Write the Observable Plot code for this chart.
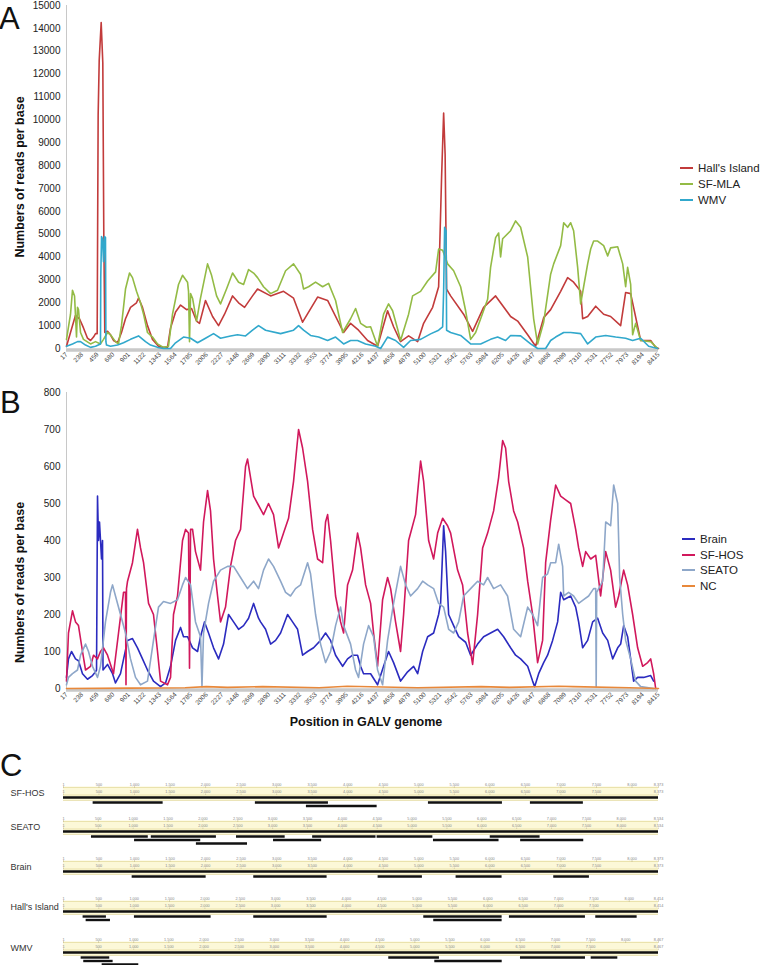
<!DOCTYPE html>
<html>
<head>
<meta charset="utf-8">
<script src="https://cdn.jsdelivr.net/npm/d3@7"></script>
<script src="https://cdn.jsdelivr.net/npm/@observablehq/plot@0.6"></script>
<style>
  html, body { margin: 0; padding: 0; background: #fff; }
  #root { position: relative; width: 760px; height: 965px; overflow: hidden; font-family: "Liberation Sans", Arial, sans-serif; color: #222; }
  .abs { position: absolute; white-space: nowrap; }
  .letter { font-size: 31px; line-height: 1; color: #111; }
  .leg { font-size: 11.5px; line-height: 14px; color: #222; }
  .leg span { display: inline-block; width: 13px; height: 2px; vertical-align: middle; margin-right: 5px; position: relative; top: -1px; }
</style>
</head>
<body>
<div id="root"></div>
<script>
// ---------------- DATA ----------------
// Panel A: reads per base, [genome position, reads]
const hallsIsland = [[17,100],[74,700],[145,1450],[201,1300],[258,900],[315,450],[358,350],[400,500],[429,650],[452,650],[466,10200],[481,12600],[509,14250],[532,12500],[546,5000],[560,700],[599,750],[641,600],[684,350],[741,250],[797,700],[854,1300],[925,1800],[1010,2000],[1039,2200],[1095,1800],[1166,1000],[1237,400],[1322,100],[1393,50],[1450,50],[1493,900],[1564,1600],[1635,1900],[1720,1700],[1791,1750],[1862,1200],[1904,1100],[1989,2100],[2089,1400],[2174,1000],[2259,1500],[2373,2300],[2458,2000],[2543,1800],[2656,2300],[2727,2600],[2912,2300],[3096,2500],[3238,2200],[3366,1150],[3579,2250],[3721,2100],[3948,700],[4047,1100],[4160,800],[4288,350],[4430,100],[4572,1650],[4657,950],[4756,300],[4870,550],[4998,300],[5083,1100],[5211,1800],[5296,2700],[5338,7500],[5367,10300],[5388,8500],[5409,2600],[5466,2300],[5650,1500],[5778,750],[5934,1800],[6104,2300],[6317,1400],[6417,1200],[6559,600],[6672,100],[6786,1350],[6885,1700],[7027,2500],[7126,3100],[7211,2900],[7311,2500],[7339,1300],[7410,1400],[7524,1850],[7637,1500],[7736,1400],[7878,1000],[7949,2450],[8020,2400],[8162,350],[8304,350],[8375,50],[8415,0]];
const sfMla = [[17,400],[74,1500],[102,2550],[131,2300],[159,500],[173,1800],[187,1700],[216,700],[258,400],[358,200],[429,300],[499,200],[542,400],[599,700],[641,600],[712,300],[755,200],[797,1000],[854,2600],[911,3300],[953,3100],[1010,2500],[1067,2000],[1110,1500],[1166,700],[1237,500],[1308,200],[1393,50],[1464,100],[1521,1500],[1606,2800],[1663,3200],[1734,2900],[1748,2500],[1762,300],[1777,2400],[1805,2200],[1862,1200],[1918,2200],[2018,3700],[2075,3200],[2146,2300],[2202,1950],[2287,2600],[2373,3300],[2458,2900],[2529,2800],[2600,3450],[2671,3300],[2727,3100],[2812,2700],[2912,2400],[3011,2550],[3125,3400],[3238,3700],[3337,3250],[3380,2600],[3451,2700],[3550,2900],[3650,2700],[3735,2850],[3834,2100],[3934,700],[4047,1300],[4118,1750],[4189,1100],[4274,930],[4331,950],[4430,100],[4515,1500],[4586,1950],[4643,1650],[4714,850],[4756,350],[4870,1500],[4927,2300],[5040,2500],[5140,2950],[5253,3350],[5296,4350],[5353,4300],[5423,3700],[5509,3400],[5608,2700],[5679,1650],[5750,400],[5821,700],[5892,1300],[5991,2150],[6033,3550],[6104,4850],[6147,5050],[6175,4000],[6204,4800],[6317,5150],[6388,5580],[6459,5300],[6559,4000],[6644,1300],[6700,200],[6786,1150],[6885,3250],[6928,3700],[7027,4500],[7070,5500],[7126,5300],[7169,5500],[7211,5150],[7268,3550],[7311,1950],[7353,2700],[7410,3700],[7453,4350],[7495,4700],[7552,4700],[7637,4500],[7694,4050],[7736,4400],[7836,4450],[7907,3700],[7949,2700],[7977,3550],[8020,2800],[8048,600],[8091,1100],[8162,350],[8304,300],[8403,0]];
const wmv = [[17,100],[102,200],[173,300],[216,300],[287,150],[358,50],[429,100],[499,200],[503,3100],[514,4900],[528,4800],[542,3800],[556,4900],[570,4850],[576,300],[585,150],[641,100],[741,150],[826,250],[925,400],[1039,550],[1138,300],[1209,150],[1308,50],[1393,0],[1493,0],[1564,250],[1677,500],[1777,450],[1876,250],[1989,450],[2103,650],[2202,450],[2344,550],[2443,600],[2557,550],[2656,800],[2741,1000],[2841,800],[3054,650],[3238,800],[3309,1000],[3380,800],[3479,570],[3593,500],[3721,350],[3834,500],[3948,200],[4047,350],[4146,350],[4260,200],[4402,100],[4473,0],[4572,500],[4685,350],[4799,50],[4898,350],[5040,400],[5182,640],[5296,800],[5353,950],[5367,2500],[5381,5300],[5402,5150],[5409,800],[5466,700],[5608,570],[5750,200],[5892,200],[6033,400],[6133,500],[6246,350],[6317,570],[6459,550],[6601,200],[6700,0],[6814,0],[6885,350],[6956,500],[7070,700],[7169,700],[7311,650],[7410,200],[7524,500],[7666,570],[7807,500],[7949,450],[8048,350],[8162,450],[8275,100],[8403,0]];

// Panel B
const brain = [[17,30],[45,80],[88,100],[145,80],[187,75],[244,40],[315,25],[386,35],[429,45],[443,50],[457,520],[471,400],[485,450],[514,350],[528,400],[535,50],[599,65],[670,40],[712,15],[783,40],[883,130],[953,135],[1024,110],[1095,80],[1166,50],[1251,20],[1351,5],[1422,15],[1493,60],[1564,130],[1635,165],[1677,140],[1734,140],[1805,110],[1876,100],[1918,140],[1975,180],[2032,150],[2103,110],[2174,80],[2245,120],[2316,200],[2387,180],[2458,160],[2529,170],[2600,190],[2671,230],[2741,190],[2770,180],[2841,160],[2912,120],[2983,130],[3054,150],[3153,200],[3224,180],[3295,160],[3366,90],[3437,100],[3522,110],[3621,130],[3692,150],[3763,130],[3834,90],[3934,60],[4004,80],[4075,90],[4146,90],[4189,60],[4231,40],[4331,40],[4430,10],[4515,60],[4586,100],[4657,70],[4756,20],[4856,45],[4941,60],[4998,40],[5069,100],[5140,140],[5225,150],[5296,200],[5324,230],[5367,440],[5395,370],[5438,200],[5509,170],[5580,140],[5679,125],[5750,90],[5849,120],[5934,140],[6033,150],[6133,160],[6218,140],[6317,110],[6388,90],[6459,80],[6559,60],[6629,20],[6658,5],[6715,40],[6786,70],[6842,90],[6913,130],[6984,180],[7027,260],[7070,240],[7169,250],[7240,220],[7282,180],[7339,110],[7410,130],[7481,180],[7552,190],[7623,150],[7694,130],[7765,80],[7836,110],[7878,120],[7921,170],[7977,140],[8020,80],[8062,20],[8119,30],[8204,30],[8304,35],[8346,20]];
const sfHos = [[17,20],[45,150],[102,210],[145,180],[187,170],[244,100],[287,50],[358,60],[400,90],[457,80],[499,100],[542,110],[599,90],[684,40],[755,150],[826,260],[854,260],[861,10],[868,270],[883,290],[953,340],[1024,430],[1067,380],[1110,340],[1181,230],[1251,200],[1308,100],[1351,20],[1450,10],[1493,30],[1535,200],[1592,250],[1663,400],[1706,430],[1748,420],[1762,55],[1777,430],[1805,430],[1847,370],[1918,320],[1961,450],[2018,535],[2060,480],[2103,350],[2160,250],[2202,180],[2273,220],[2344,330],[2415,400],[2486,430],[2557,600],[2585,620],[2628,570],[2671,520],[2727,500],[2812,470],[2883,500],[2954,470],[3025,380],[3096,420],[3167,460],[3238,560],[3309,700],[3366,650],[3437,560],[3508,430],[3579,350],[3650,340],[3692,450],[3721,470],[3763,400],[3834,250],[3905,180],[3948,150],[4004,280],[4075,320],[4146,420],[4189,380],[4260,280],[4331,230],[4373,150],[4430,60],[4501,240],[4572,300],[4615,270],[4685,180],[4756,100],[4799,200],[4870,400],[4969,470],[5040,615],[5083,560],[5154,400],[5225,350],[5282,420],[5353,460],[5423,440],[5466,420],[5565,320],[5636,280],[5707,150],[5778,65],[5849,200],[5920,380],[5991,420],[6076,480],[6147,570],[6204,670],[6246,650],[6289,560],[6360,480],[6417,450],[6501,380],[6559,290],[6629,200],[6700,70],[6771,130],[6814,340],[6885,455],[6956,550],[7027,520],[7098,510],[7169,500],[7240,430],[7282,380],[7339,330],[7382,370],[7453,350],[7524,360],[7594,250],[7666,370],[7736,320],[7807,220],[7850,250],[7921,320],[7977,280],[8048,200],[8119,110],[8190,60],[8261,70],[8304,80],[8346,40],[8375,0]];
const seato = [[17,10],[45,30],[102,40],[173,50],[216,90],[287,120],[329,100],[386,60],[457,30],[499,60],[570,180],[641,260],[670,280],[712,250],[783,200],[854,150],[925,80],[996,30],[1067,10],[1166,20],[1251,130],[1322,220],[1393,235],[1493,230],[1592,240],[1663,280],[1706,300],[1777,280],[1847,180],[1918,140],[1939,5],[1961,150],[2032,230],[2103,290],[2202,320],[2302,330],[2387,330],[2486,300],[2585,270],[2671,290],[2741,270],[2812,320],[2883,350],[2954,330],[3054,290],[3125,260],[3195,250],[3266,270],[3337,280],[3437,340],[3479,310],[3550,200],[3621,120],[3692,70],[3763,100],[3834,170],[3905,220],[3948,170],[4047,120],[4118,50],[4160,30],[4231,120],[4302,170],[4373,140],[4430,50],[4501,10],[4572,130],[4657,230],[4756,330],[4827,280],[4898,250],[4998,270],[5069,290],[5140,280],[5225,270],[5296,230],[5367,220],[5438,160],[5509,150],[5580,180],[5650,250],[5750,270],[5849,290],[5934,280],[5991,300],[6076,270],[6175,280],[6274,250],[6360,160],[6459,140],[6559,220],[6629,200],[6700,170],[6771,300],[6842,310],[6885,340],[6956,340],[6999,390],[7055,330],[7070,250],[7140,260],[7211,250],[7282,230],[7353,240],[7424,250],[7495,270],[7524,270],[7531,5],[7538,260],[7623,290],[7666,450],[7736,440],[7779,550],[7836,500],[7864,300],[7907,200],[7949,130],[8020,80],[8091,20],[8162,5],[8346,0]];
const nc = [[17,0],[900,1],[1700,2],[2000,5],[2300,3],[2800,5],[3600,2],[4000,6],[5000,2],[5900,5],[6300,3],[7000,6],[7200,5],[8000,2],[8415,0]];

const xTickLabels = d3.range(17, 8416, 221); // 17, 238, 459 ... 8415
const yTicksA = d3.range(0, 15001, 1000);
const yTicksB = d3.range(0, 801, 100);

const namesA = ["Hall's Island", "SF-MLA", "WMV"];
const colorsA = ["#c23b3b", "#93bb45", "#31a8cc"];
const namesB = ["Brain", "SF-HOS", "SEATO", "NC"];
const colorsB = ["#2b2bbf", "#d1185c", "#8ea7c9", "#e8883a"];

// Panel C: genome lengths and contigs [start, end, lane]
const cSamples = ["SF-HOS", "SEATO", "Brain", "Hall's Island", "WMV"];
const cLengths = [8373, 8534, 8373, 8414, 8467];
const cContigs = [
  [[418,1403,0],[2701,3729,0],[3419,4414,1],[5136,6177,0],[6571,7316,0]],
  [[402,1217,0],[1260,2194,0],[2482,3180,0],[3574,4483,0],[4498,5298,0],[6121,6836,0],[1020,1969,1],[3013,3703,1],[5307,6247,1],[6557,7462,1],[1907,2640,2]],
  [[967,2008,0],[2678,3710,0],[4428,5051,0],[5525,6172,0],[6899,7401,0]],
  [[278,608,0],[1004,2088,0],[2691,3729,0],[5095,6203,0],[6306,7381,0],[7527,8112,0],[321,665,1],[5236,6203,1]],
  [[252,659,0],[4629,5350,0],[6503,7428,0],[7509,7888,0],[289,707,1],[5284,6243,1],[551,1072,2]]
];

// ---------------- DRAW ----------------
const FONT = "'Liberation Sans', Arial, sans-serif";
const root = document.getElementById("root");
function place(node, top, left = 0) {
  node.style.position = "absolute";
  node.style.left = left + "px";
  node.style.top = top + "px";
  root.append(node);
  return node;
}
function div(cls, html, top, left, extra = "") {
  const d = document.createElement("div");
  d.className = "abs " + cls;
  d.innerHTML = html;
  d.style.cssText += `top:${top}px;left:${left}px;${extra}`;
  root.append(d);
  return d;
}
const toRows = (pairs) => pairs.flatMap(([s, arr]) => arr.map(([pos, value]) => ({series: s, pos, value})));

function coveragePlot({data, names, colors, yMax, yTicks, height, marginTop, marginBottom, labelDy}) {
  return Plot.plot({
    width: 760, height, marginLeft: 66, marginRight: 102, marginTop, marginBottom,
    style: {fontFamily: FONT, background: "transparent", overflow: "visible"},
    x: {domain: [17, 8415]},
    y: {domain: [0, yMax]},
    color: {domain: names, range: colors},
    marks: [
      Plot.ruleY([0], {stroke: "#c9c9c9", strokeWidth: 3.5, dy: 1.5}),
      Plot.ruleX([17], {stroke: "#c8c8c8", strokeWidth: 1}),
      Plot.axisY({ticks: yTicks, tickSize: 0, tickPadding: 6, fontSize: 10, label: null, tickFormat: d => String(d), color: "#222"}),
      Plot.axisX({ticks: xTickLabels, tickSize: 0, tickPadding: 5, tickRotate: -45, fontSize: 6.5, label: null, tickFormat: d => String(d), color: "#444"}),
      Plot.line(data, {x: "pos", y: "value", z: "series", stroke: "series", strokeWidth: 1.6}),
      Plot.text(["Numbers of reads per base"], {frameAnchor: "left", textAnchor: "middle", rotate: -90, dx: -47, dy: labelDy, fontWeight: "bold", fontSize: 12.5, fill: "#111"})
    ]
  });
}

// Panel A
const dataA = toRows([[namesA[0], hallsIsland], [namesA[1], sfMla], [namesA[2], wmv]]);
place(coveragePlot({data: dataA, names: namesA, colors: colorsA, yMax: 15000, yTicks: yTicksA, height: 365, marginTop: 5, marginBottom: 17, labelDy: 0}), 0);

// Panel B
const dataB = toRows([[namesB[0], brain], [namesB[1], sfHos], [namesB[2], seato], [namesB[3], nc]]);
place(coveragePlot({data: dataB, names: namesB, colors: colorsB, yMax: 800, yTicks: yTicksB, height: 328, marginTop: 12, marginBottom: 20, labelDy: 42}), 380);

// Panel letters
div("letter", "A", 3, -1);
div("letter", "B", 387, 0);
div("letter", "C", 750, 0);

// Legends
namesA.forEach((n, i) => div("leg", `<span style="background:${colorsA[i]}"></span>${n}`, 161 + i * 16, 680));
namesB.forEach((n, i) => div("leg", `<span style="background:${colorsB[i]}"></span>${n}`, 532 + i * 15.7, 682));

// X title
div("", "Position in GALV genome", 715, 0, "width:732px;text-align:center;font-weight:bold;font-size:12.5px;color:#111;");

// Panel C rulers
const fmt = d3.format(",");
const rowTops = [780, 814, 854, 894, 935];
cSamples.forEach((name, i) => {
  const len = cLengths[i];
  const ticks1 = [1, ...d3.range(500, len - 150, 500), len];
  const ticks2 = name === "SEATO" ? ticks1 : ticks1.filter(t => t !== 8000);
  const contigs = cContigs[i].map(([start, end, lane]) => ({start, end, lane}));
  const p = Plot.plot({
    width: 760, height: 32, marginLeft: 63, marginRight: 102, marginTop: 0, marginBottom: 0,
    style: {fontFamily: FONT, background: "transparent", overflow: "visible"},
    x: {domain: [1, len], axis: null},
    y: {domain: [0, 32], range: [0, 32], axis: null},
    marks: [
      Plot.rect([0], {x1: 1, x2: len, y1: 6.5, y2: 20, fill: "#fcf8d8"}),
      Plot.ruleY([7, 14.5, 20], {x1: 1, x2: len, y: d => d, stroke: "#e2d99a", strokeWidth: 0.7}),
      Plot.ruleX(ticks1, {x: d => d, y1: 6, y2: 8, stroke: "#b8b08a", strokeWidth: 0.5}),
      Plot.ruleX(ticks2, {x: d => d, y1: 13.5, y2: 15, stroke: "#b8b08a", strokeWidth: 0.5}),
      Plot.text(ticks1, {x: d => d, y: 4, text: d => fmt(d), fontSize: 3.8, fill: "#888"}),
      Plot.text(ticks2, {x: d => d, y: 11.2, text: d => fmt(d), fontSize: 3.8, fill: "#888"}),
      Plot.ruleY([17], {x1: 1, x2: len, y: d => d, stroke: "#111", strokeWidth: 2.3}),
      Plot.ruleY(contigs, {x1: "start", x2: "end", y: d => 22 + d.lane * 3.5, stroke: "#111", strokeWidth: 2.4}),
      Plot.text([name], {frameAnchor: "left", y: 13, dx: -53, textAnchor: "start", fontSize: 9, fill: "#333"})
    ]
  });
  place(p, rowTops[i]);
});
</script>
</body>
</html>
